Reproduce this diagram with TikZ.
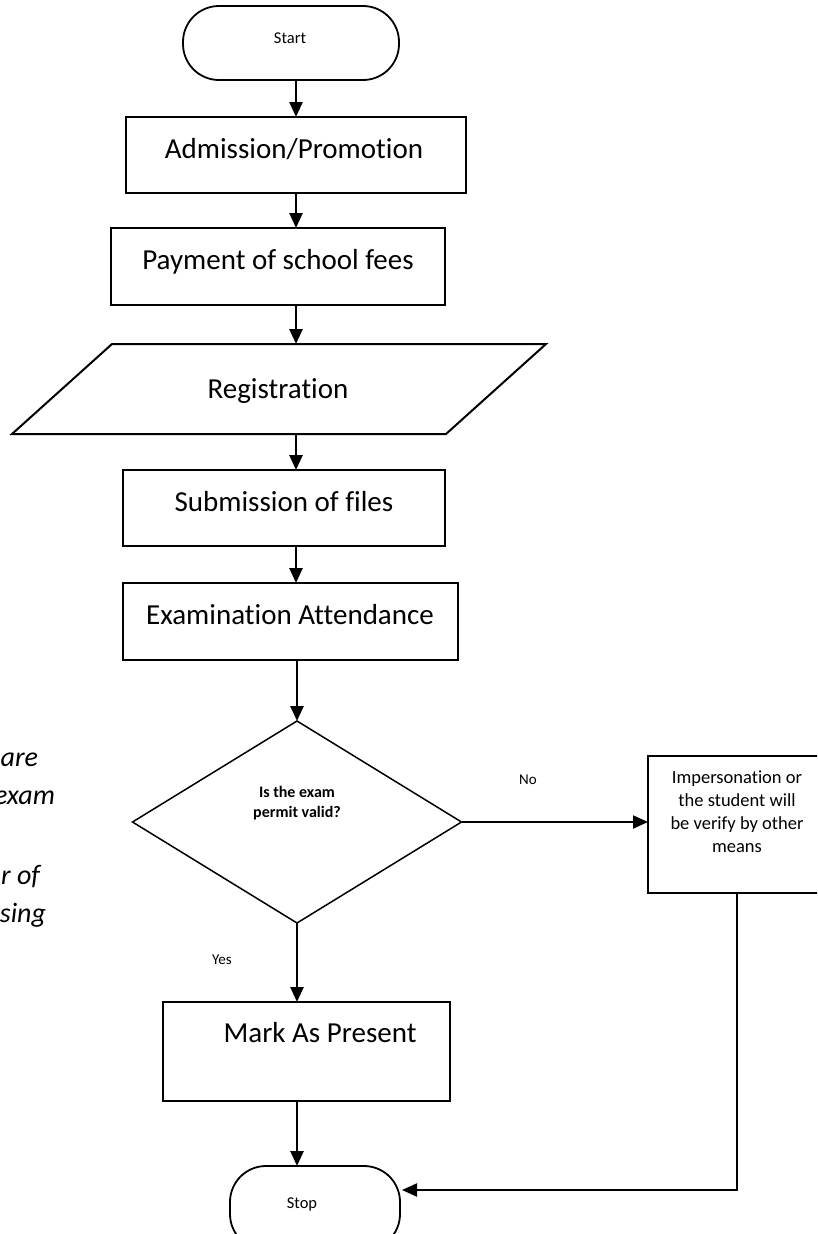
\documentclass[tikz,border=0pt]{standalone}
\usepackage{fontspec}
\setmainfont[Ligatures=NoCommon]{Carlito}
\usetikzlibrary{arrows.meta,shapes.geometric}
\begin{document}
\begin{tikzpicture}[x=1pt,y=-1pt,
 every node/.style={inner sep=0pt, outer sep=0pt},
 frame/.style={draw, line width=2pt},
 term/.style={draw, line width=1.8pt, rounded corners=36pt},
 arr/.style={line width=2.6pt, -{Triangle[length=15pt,width=13pt]}},
 thinarr/.style={line width=2pt, -{Triangle[length=15pt,width=13pt]}},
 bigtxt/.style={anchor=base, font=\fontsize{29}{35}\selectfont},
 smalltxt/.style={anchor=base, font=\fontsize{16.5}{20}\selectfont},
 lbl/.style={anchor=base, font=\fontsize{15}{18}\selectfont},
 frag/.style={anchor=base east, font=\itshape\fontsize{28}{38}\selectfont}
]
\fill[white] (0,0) rectangle (817,1234);
\useasboundingbox (0,0) rectangle (817,1234);
\clip (0,0) rectangle (817,1234);

% terminals and process boxes
\node[term, minimum width=216pt, minimum height=74pt] (start) at (291,43) {};
\node[smalltxt] (starttxt) at (290,43) {Start};

\node[frame, minimum width=340pt, minimum height=76pt] (adm) at (296,155) {};
\node[bigtxt] (admtxt) at (294,158) {Admission/Promotion};

\node[frame, minimum width=334pt, minimum height=77pt] (pay) at (278,266.5) {};
\node[bigtxt] (paytxt) at (278,269) {Payment of school fees};

\node[minimum width=434pt, minimum height=90pt] (reg) at (279,389) {};
\draw[frame] (112,344) -- (546,344) -- (446,434) -- (12,434) -- cycle;
\node[bigtxt] (regtxt) at (278,398) {Registration};

\node[frame, minimum width=322pt, minimum height=76pt] (sub) at (284,508) {};
\node[bigtxt] (subtxt) at (284,511) {Submission of files};

\node[frame, minimum width=335pt, minimum height=77pt] (exam) at (290,621.5) {};
\node[bigtxt] (examtxt) at (290,624) {Examination Attendance};

\node[draw, diamond, line width=1.5pt, minimum width=329pt, minimum height=202pt, aspect=1.63] (dia) at (297,822) {};
\node[align=center, font=\bfseries\fontsize{16}{20}\selectfont] (diatxt) at (297,803) {Is the exam\\permit valid?};

\node[frame, minimum width=178pt, minimum height=137pt] (imp) at (737,824.5) {};
\node[align=center, font=\fontsize{18.5}{23}\selectfont] (imptxt) at (737,812) {Impersonation or\\the student will\\be verify by other\\means};

\node[frame, minimum width=287pt, minimum height=99pt] (mark) at (306.5,1051.5) {};
\node[bigtxt] (marktxt) at (320,1042) {Mark As Present};

\node[term, minimum width=170pt, minimum height=84pt] (stop) at (315,1208) {};
\node[smalltxt] (stoptxt) at (302,1208) {Stop};

% branch labels
\node[lbl] (no) at (528,784) {No};
\node[lbl] (yes) at (222,964) {Yes};

% cut-off italic text at the left edge
\node[frag] (f1) at (38,766) {are};
\node[frag] (f2) at (55,804) {exam};
\node[frag] (f3) at (40,884) {r of};
\node[frag] (f4) at (46,922) {sing};

% connectors
\draw[arr] (adm.north |- start.south) -- (adm.north);
\draw[arr] (adm.south) -- (adm.south |- pay.north);
\draw[arr] (adm.south |- pay.south) -- (adm.south |- reg.north);
\draw[arr] (adm.south |- reg.south) -- (adm.south |- sub.north);
\draw[arr] (adm.south |- sub.south) -- (adm.south |- exam.north);
\draw[arr] (dia.north |- exam.south) -- (dia.north);
\draw[thinarr] (dia.east) -- (imp.west |- dia.east);
\draw[arr] (dia.south) -- (dia.south |- mark.north);
\draw[arr] (dia.south |- mark.south) -- (dia.south |- stop.north);
\coordinate (stopin) at (402,1190);
\draw[thinarr] (imp.south) |- (stopin);
\end{tikzpicture}
\end{document}
